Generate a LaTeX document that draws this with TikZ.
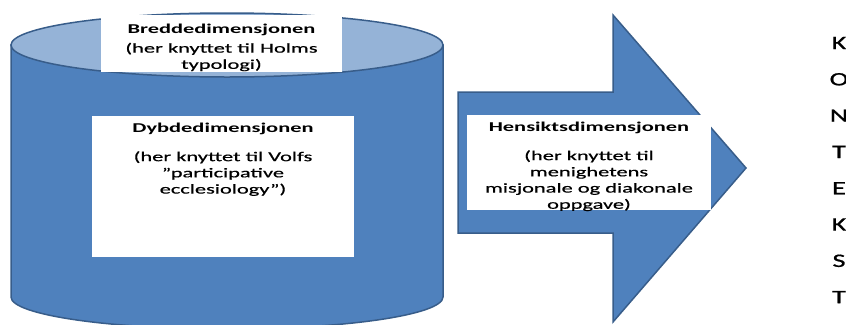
\documentclass[tikz,border=0pt]{standalone}
\usepackage{fontspec}
\setmainfont{Carlito}[FakeStretch=1.66, UprightFeatures={FakeBold=0.6}]
\newfontfamily\letterfont{Carlito}[FakeStretch=1.5, FakeBold=0.8]
\definecolor{body}{RGB}{79,129,189}
\definecolor{edge}{RGB}{56,93,138}
\definecolor{lid}{RGB}{149,179,215}
\tikzset{
  wbox/.style={fill=white, draw=none, inner sep=0pt},
  txt/.style={align=center, inner sep=0pt, font=\fontsize{13.5bp}{16.2bp}\selectfont},
  btxt/.style={inner sep=0pt, font=\fontsize{13.5bp}{16.2bp}\selectfont\bfseries},
  letter/.style={inner sep=0pt, font=\letterfont\fontsize{19bp}{20bp}\selectfont},
}
\begin{document}
\begin{tikzpicture}[x=1bp, y=-1bp]
\useasboundingbox (0,0) rectangle (846,324);
% cylinder
\draw[fill=body, draw=edge, line width=1.5bp]
  (11,45) -- (11,297) arc[start angle=180, end angle=360, x radius=216bp, y radius=32bp]
  -- (443,45) -- cycle;
\draw[fill=lid, draw=edge, line width=1.5bp] (227,45) ellipse [x radius=216bp, y radius=32bp];
% arrow
\draw[fill=body, draw=edge, line width=1.5bp]
  (458,92) -- (613,92) -- (613,15) -- (746,168) -- (613,322) -- (613,233) -- (458,233) -- cycle;
% top box
\node[wbox, minimum width=241bp, minimum height=57bp] (bredde) at (221.5,43.5) {};
\node[btxt] (breddet) at (221.5,30) {Breddedimensjonen};
\node[txt, anchor=north] (bredded) at ([yshift=-6.5bp]breddet.south) {(her knyttet til Holms\\typologi)};
% inner box
\node[wbox, minimum width=262bp, minimum height=141bp] (dybde) at (223,186.5) {};
\node[btxt] (dybdet) at (223,129) {Dybdedimensjonen};
\node[txt, anchor=north] (dybded) at ([yshift=-16bp]dybdet.south) {(her knyttet til Volfs\\”participative\\ecclesiology”)};
% arrow box
\node[wbox, minimum width=244bp, minimum height=95bp] (hensikt) at (589,162.5) {};
\node[btxt] (hensiktt) at (589,128) {Hensiktsdimensjonen};
\node[txt, anchor=north] (hensiktd) at ([yshift=-16bp]hensiktt.south) {(her knyttet til\\menighetens\\misjonale og diakonale\\oppgave)};
% KONTEKST
\foreach \l [count=\i from 0] in {K,O,N,T,E,K,S,T}{
  \node[letter] (k\i) at (839,{43+36.3*\i}) {\l};
}
\end{tikzpicture}
\end{document}
